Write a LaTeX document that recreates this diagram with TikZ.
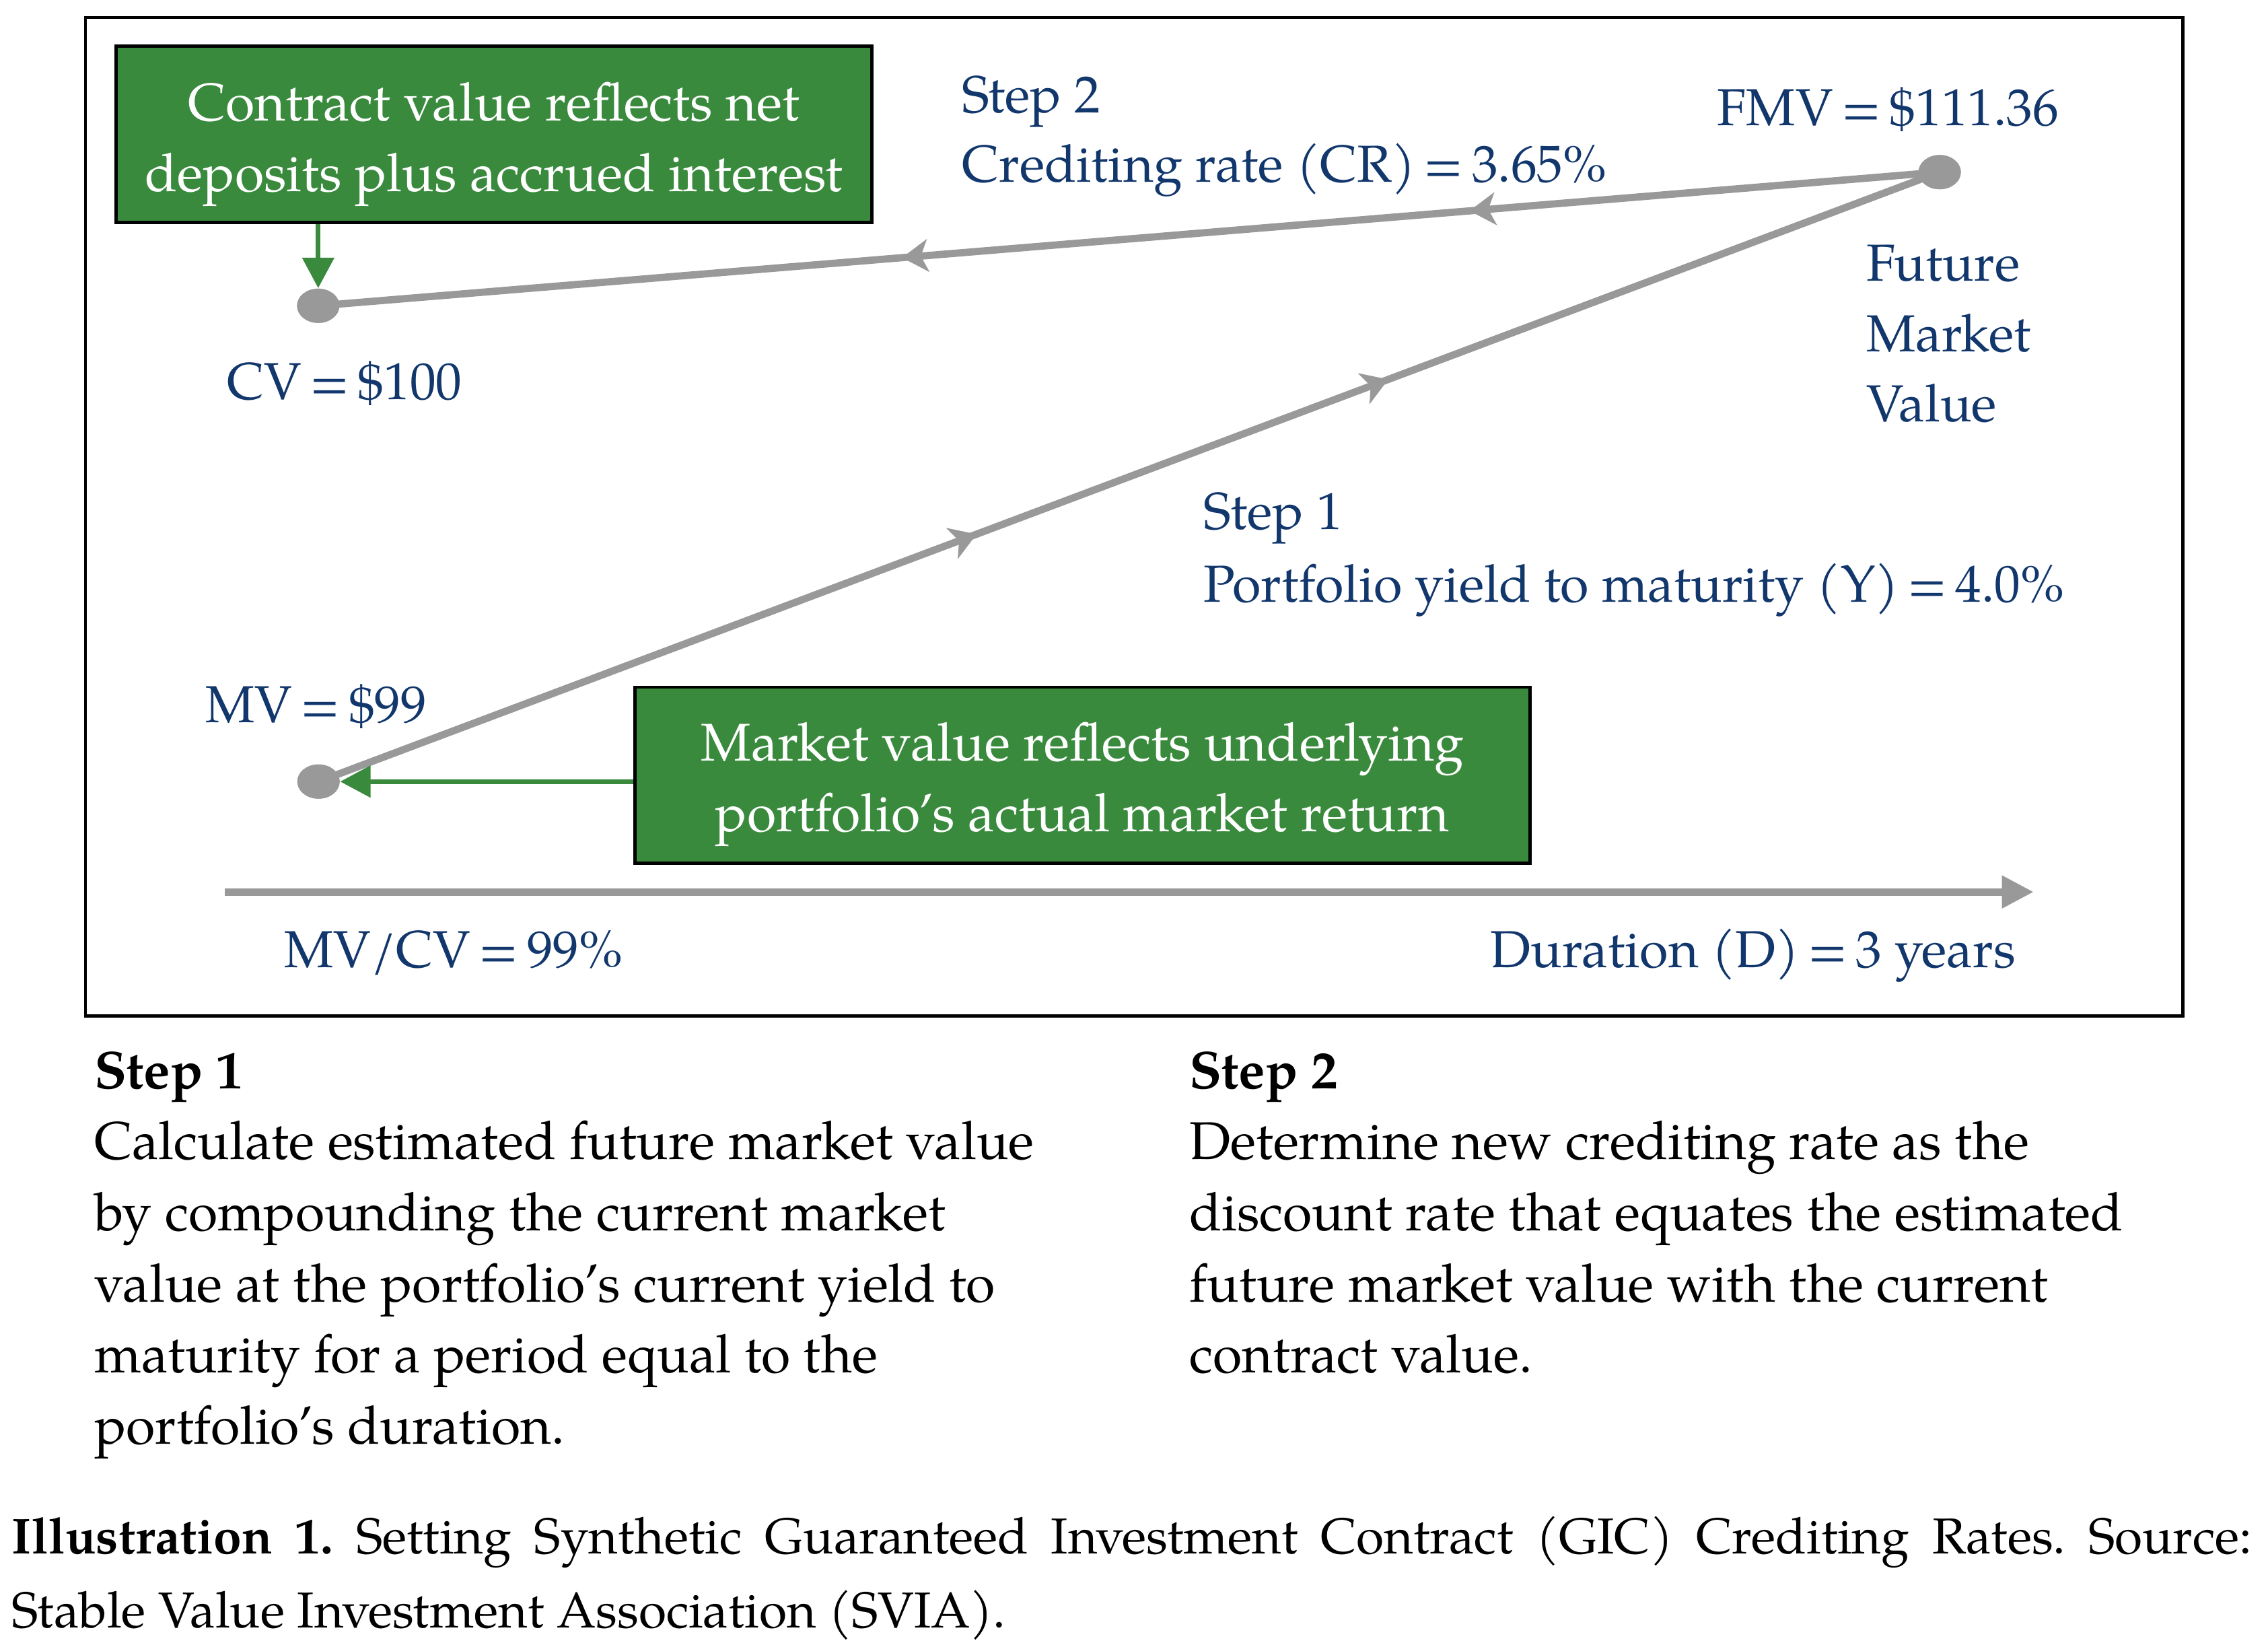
\documentclass[tikz,border=0pt]{standalone}
\usepackage{fontspec}
\setmainfont{texgyrepagella}[Extension=.otf, UprightFont=*-regular, BoldFont=*-bold, ItalicFont=*-italic, BoldItalicFont=*-bolditalic]
\usetikzlibrary{arrows.meta,decorations.markings,shapes.geometric}
\frenchspacing
\definecolor{navy}{RGB}{18,55,108}
\definecolor{boxgreen}{RGB}{58,138,62}
\definecolor{linegray}{RGB}{153,153,153}
\newcommand{\myeq}{\hspace{0.16em}=\hspace{0.16em}}
\newcommand{\boxtext}[1]{\raisebox{-0.1cm}[\height][\depth]{\begin{tabular}{@{}c@{}}#1\end{tabular}}}
\tikzset{
  lbl/.style={text=navy, inner sep=0pt, anchor=base west},
  dot/.style={ellipse, fill=linegray, inner sep=0pt, minimum width=0.586cm, minimum height=0.474cm},
  gbox/.style={draw=black, line width=1.3pt, fill=boxgreen, text=white, inner sep=0pt, font=\fontsize{20.9}{27.8}\selectfont},
  gline/.style={draw=linegray, line width=2.85pt},
  gtip/.tip={Stealth[length=0.36cm, width=0.45cm, inset=0.1cm]},
  garrow/.style={draw=boxgreen, line width=1.85pt, -{Triangle[length=0.42cm, width=0.43cm]}},
  axisline/.style={draw=linegray, line width=2.9pt, -{Triangle[length=0.44cm, width=0.43cm]}},
  bodytxt/.style={inner sep=0pt, anchor=base west}
}
\begin{document}
\begin{tikzpicture}[x=0.02cm, y=-0.02cm, font=\fontsize{20.5}{27.8}\selectfont]
\useasboundingbox (0,0) rectangle (1568,1141);
% frame
\draw[line width=1.3pt] (59.1,12.1) rectangle (1509,702.2);
% dots
\node[dot] (cv) at (220,211.4) {};
\node[dot] (fmv) at (1341,119) {};
\node[dot] (mv) at (220.2,540.3) {};
% gray connectors
\draw[gline, postaction={decorate}, decoration={markings,
   mark=at position 0.29 with {\arrow{gtip}},
   mark=at position 0.64 with {\arrow{gtip}}}] (fmv.center) -- (cv.center);
\draw[gline, postaction={decorate}, decoration={markings,
   mark=at position 0.406 with {\arrow{gtip}},
   mark=at position 0.66 with {\arrow{gtip}}}] (mv.center) -- (fmv.center);
\node[dot] at (cv) {};
\node[dot] at (fmv) {};
\node[dot] at (mv) {};
% green boxes
\node[gbox, minimum width=10.46cm, minimum height=2.44cm] (box1) at (341.5,93)
  {\boxtext{Contract value reflects net\\deposits plus accrued interest}};
\node[gbox, minimum width=12.38cm, minimum height=2.43cm] (box2) at (748.3,535.8)
  {\boxtext{Market value reflects underlying\\portfolio’s actual market return}};
\draw[garrow] (cv |- box1.south) -- (cv.north);
\draw[garrow] (box2.west |- mv) -- (mv.east);
% axis
\coordinate (axL) at (155.4,616.6);
\coordinate (axR) at (1406,616.6);
\draw[axisline] (axL) -- (axR);
% labels
\node[lbl] (s2) at (664.8,77.8) {Step 2};
\node[lbl] (cr) at (664.8,125.9) {Crediting rate (CR)\myeq3.65\%};
\node[lbl] (fmvl) at (1187,86.7) {FMV\myeq\$111.36};
\node[lbl] (fut) at (1290,194.4) {\parbox[t]{5cm}{\baselineskip=0.97cm Future\\Market\\Value}};
\node[lbl] (cvl) at (156.6,276) {CV\myeq\$100};
\node[lbl] (s1) at (832,366) {Step 1};
\node[lbl] (py) at (832,416) {Portfolio yield to maturity (Y)\myeq4.0\%};
\node[lbl] (mvl) at (141.7,499.4) {MV\myeq\$99};
\node[lbl] (ratio) at (196,669) {MV/CV\myeq99\%};
\node[lbl] (dur) at (1030,669) {Duration (D)\myeq3 years};
% bottom text
\node[bodytxt, font=\fontsize{20.9}{27.8}\selectfont] (st1) at (65,752.4) {\parbox[t]{15cm}{\baselineskip=0.984cm\raggedright
  \textbf{Step 1}\\Calculate estimated future market value\\by compounding the current market\\value at the portfolio’s current yield to\\maturity for a period equal to the\\portfolio’s duration.}};
\node[bodytxt, font=\fontsize{20.9}{27.8}\selectfont] (st2) at (822,752.4) {\parbox[t]{15cm}{\baselineskip=0.984cm\raggedright
  \textbf{Step 2}\\Determine new crediting rate as the\\discount rate that equates the estimated\\future market value with the current\\contract value.}};
\node[bodytxt, font=\fontsize{19.85}{27.8}\selectfont] (cap) at (8,1074) {\parbox[t]{30.98cm}{\baselineskip=1.03cm
  \textbf{Illustration 1.} Setting Synthetic Guaranteed Investment Contract (GIC) Crediting Rates. Source:\linebreak Stable Value Investment Association (SVIA).}};
\end{tikzpicture}
\end{document}
